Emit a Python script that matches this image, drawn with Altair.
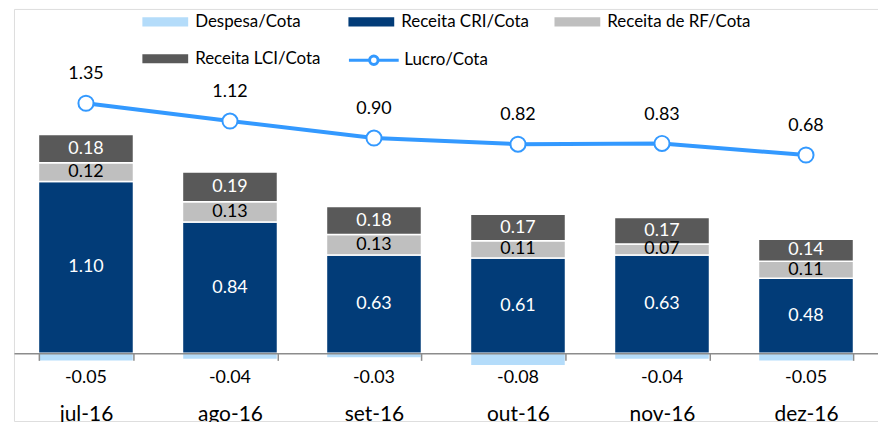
import altair as alt
import pandas as pd

meses = ["jul-16", "ago-16", "set-16", "out-16", "nov-16", "dez-16"]
despesa = [-0.05, -0.04, -0.03, -0.08, -0.04, -0.05]
receita_cri = [1.10, 0.84, 0.63, 0.61, 0.63, 0.48]
receita_rf = [0.12, 0.13, 0.13, 0.11, 0.07, 0.11]
receita_lci = [0.18, 0.19, 0.18, 0.17, 0.17, 0.14]
lucro = [1.35, 1.12, 0.90, 0.82, 0.83, 0.68]

series_barras = ["Despesa/Cota", "Receita CRI/Cota", "Receita de RF/Cota", "Receita LCI/Cota"]
cores_barras = ["#B4DCFA", "#023C78", "#BFBFBF", "#595959"]
serie_linha = "Lucro/Cota"
cor_linha = "#3399FF"

rows = []
for i, m in enumerate(meses):
    for j, (s, vals) in enumerate(zip(series_barras, [despesa, receita_cri, receita_rf, receita_lci])):
        rows.append({"mes": m, "serie": s, "ordem": j, "valor": vals[i]})
df_bar = pd.DataFrame(rows)
df_line = pd.DataFrame({"mes": meses, "lucro": lucro, "serie": serie_linha})
df_desp = pd.DataFrame({"mes": meses, "despesa": despesa})

FONT = "Lato"
RECT = "M-1,-0.2H1V0.2H-1Z"
LEG = dict(title=None, orient="none", labelFont=FONT, labelFontSize=17,
           labelColor="#000000", padding=0)

x_enc = alt.X(
    "mes:N",
    sort=meses,
    scale=alt.Scale(paddingInner=0.34, paddingOuter=0.17),
    axis=alt.Axis(
        title=None, orient="bottom", offset=-68, tickBand="extent",
        domainColor="#8C8C8C", domainWidth=1.5, tickColor="#8C8C8C", tickWidth=1.5,
        tickSize=7, labelFont=FONT, labelFontSize=21, labelColor="#000000",
        labelPadding=60, labelBaseline="alphabetic", labelAngle=0, zindex=1, grid=False,
    ),
)

y_bar_scale = alt.Scale(domain=[-0.4331, 2.2038], nice=False, zero=False)
y_line_scale = alt.Scale(domain=[-2.7642, 2.5709], nice=False, zero=False)

base_bar = alt.Chart(df_bar).transform_stack(
    stack="valor", groupby=["mes"], as_=["y0", "y1"],
    sort=[alt.SortField("ordem", order="ascending")],
)

bars_a = base_bar.transform_filter(alt.datum.ordem < 3).mark_bar(stroke="white", strokeWidth=1.5).encode(
    x=x_enc,
    y=alt.Y("y0:Q", scale=y_bar_scale, axis=None),
    y2="y1:Q",
    color=alt.Color(
        "serie:N",
        scale=alt.Scale(domain=series_barras[:3], range=cores_barras[:3]),
        legend=alt.Legend(
            legendX=129, legendY=-10, direction="horizontal", gridAlign="all",
            symbolType=RECT, symbolSize=2116, symbolStrokeWidth=0,
            labelOffset=7, columnPadding=9, **LEG,
        ),
    ),
)

bars_b = base_bar.transform_filter(alt.datum.ordem == 3).mark_bar(stroke="white", strokeWidth=1.5).encode(
    x=x_enc,
    y=alt.Y("y0:Q", scale=y_bar_scale, axis=None),
    y2="y1:Q",
    fill=alt.Fill(
        "serie:N",
        scale=alt.Scale(domain=series_barras[3:], range=cores_barras[3:]),
        legend=alt.Legend(
            legendX=129, legendY=27,
            symbolType=RECT, symbolSize=2116, symbolStrokeWidth=0,
            labelOffset=7, **LEG,
        ),
    ),
)

bar_labels = base_bar.transform_filter(alt.datum.ordem > 0).transform_calculate(
    ymid="(datum.y0 + datum.y1) / 2"
).mark_text(font=FONT, fontSize=18, baseline="middle").encode(
    x=x_enc,
    y=alt.Y("ymid:Q", scale=y_bar_scale, axis=None),
    text=alt.Text("valor:Q", format=".2f"),
    color=alt.condition(alt.datum.serie == "Receita de RF/Cota", alt.value("#000000"), alt.value("#FFFFFF")),
)

desp_labels = alt.Chart(df_desp).transform_calculate(
    zero="0",
    rotulo="replace(format(datum.despesa, '.2f'), '\u2212', '-')",
).mark_text(
    font=FONT, fontSize=18, baseline="middle", dy=25, color="#000000"
).encode(
    x=x_enc,
    y=alt.Y("zero:Q", scale=y_bar_scale, axis=None),
    text="rotulo:N",
)

line = alt.Chart(df_line).mark_line(strokeWidth=4).encode(
    x=x_enc,
    y=alt.Y("lucro:Q", scale=y_line_scale, axis=None),
    stroke=alt.Stroke(
        "serie:N",
        scale=alt.Scale(domain=[serie_linha], range=[cor_linha]),
        legend=alt.Legend(
            legendX=335, legendY=25,
            symbolType="M-1,0H-0.2M0.2,0H1M0.17,0A0.17,0.17 0 1 1 -0.17,0A0.17,0.17 0 1 1 0.17,0Z",
            symbolSize=2500, symbolStrokeWidth=3, labelOffset=4, **LEG,
        ),
    ),
)

points = alt.Chart(df_line).mark_point(
    filled=True, fill="white", stroke=cor_linha, strokeWidth=2, size=230, shape="circle", opacity=1
).encode(
    x=x_enc,
    y=alt.Y("lucro:Q", scale=y_line_scale, axis=None),
)

line_labels = alt.Chart(df_line).mark_text(
    font=FONT, fontSize=18, baseline="middle", dy=-29, color="#000000"
).encode(
    x=x_enc,
    y=alt.Y("lucro:Q", scale=y_line_scale, axis=None),
    text=alt.Text("lucro:Q", format=".2f"),
)

chart = alt.layer(
    alt.layer(bars_a, bars_b, bar_labels, desp_labels),
    alt.layer(line, points, line_labels),
).resolve_scale(y="independent").properties(
    width=868, height=414,
    autosize=alt.AutoSizeParams(type="none"),
    padding={"left": 6, "top": 0, "right": 0, "bottom": 0},
).configure_view(stroke=None).configure(background="white")

chart.save("out.html", embed_options={"renderer": "svg", "actions": False})
